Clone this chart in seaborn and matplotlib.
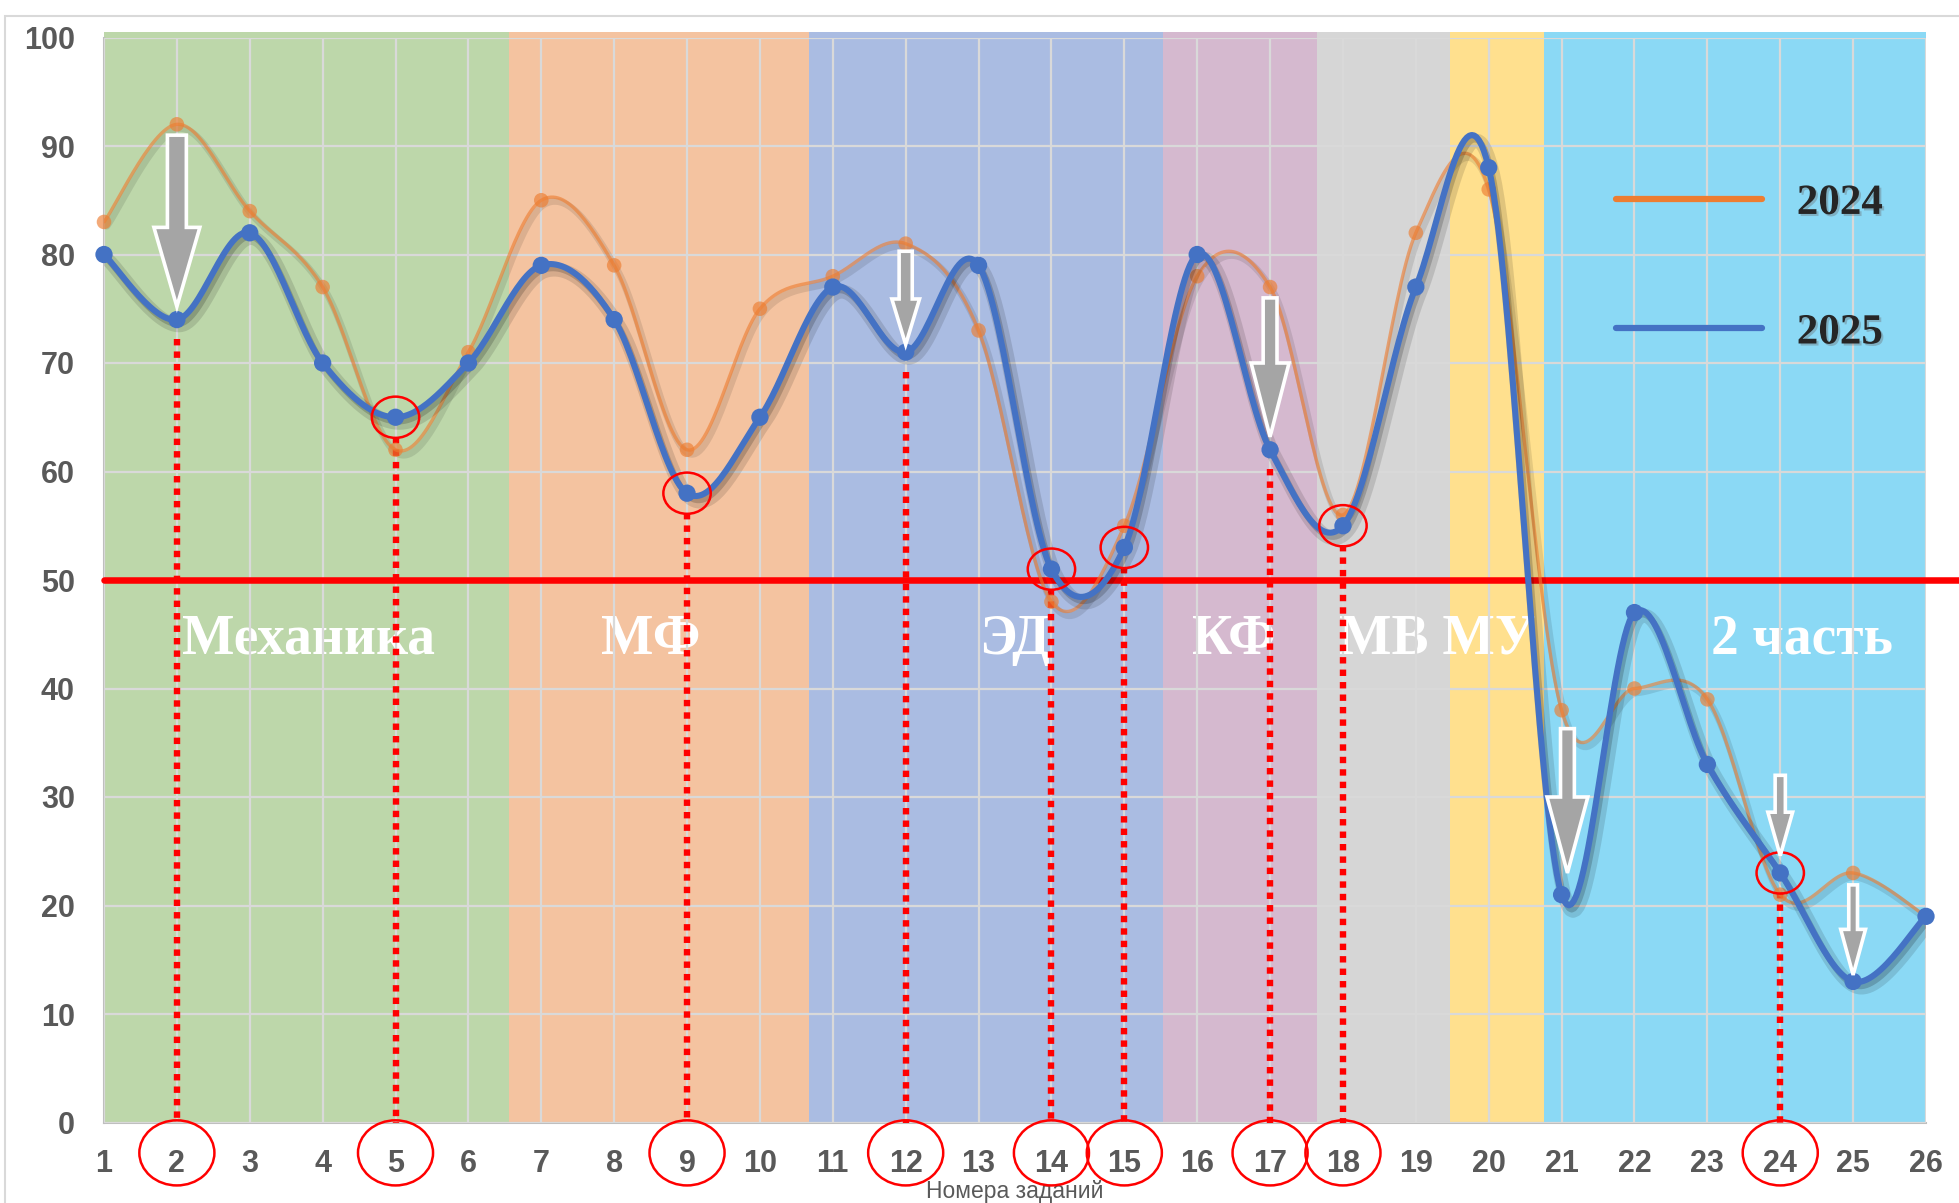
import numpy as np
import pandas as pd
import matplotlib
matplotlib.use("Agg")
import matplotlib.pyplot as plt
import matplotlib.patheffects as pe
from matplotlib.patches import Ellipse, FancyArrow, Rectangle
import seaborn as sns

# ---------------- data ----------------
tasks = list(range(1, 27))
y2024 = [83, 92, 84, 77, 62, 71, 85, 79, 62, 75, 78, 81, 73, 48, 55, 78, 77, 56, 82, 86, 38, 40, 39, 21, 23, 19]
y2025 = [80, 74, 82, 70, 65, 70, 79, 74, 58, 65, 77, 71, 79, 51, 53, 80, 62, 55, 77, 88, 21, 47, 33, 23, 13, 19]
series_names = ["2024", "2025"]
threshold = 50
marked_tasks = [2, 5, 9, 12, 14, 15, 17, 18, 24]
circled_points = [5, 9, 14, 15, 18, 24]
sections = ["Механика", "МФ", "ЭД", "КФ", "МВ МУ", "2 часть"]
section_bounds = [1, 6.56, 10.67, 15.53, 17.64, 19.47, 20.76, 26]
section_colors = ["#BDD7AA", "#F4C3A0", "#AABCE2", "#D5B9CF", "#D6D6D6", "#FFE08E", "#8BD9F5"]
section_label_x = [3.8, 8.5, 13.5, 16.5, 19.3, 24.3]
# arrows: (x, top, tip, shaft width, head width, head length)
arrows = [(2, 91, 75.2, 0.26, 0.63, 7.3),
          (12, 80.3, 71.7, 0.18, 0.38, 4.2),
          (17, 76, 63.2, 0.19, 0.52, 6.8),
          (21.08, 36.3, 23, 0.19, 0.56, 7.0),
          (24, 32, 24.6, 0.14, 0.34, 4.0),
          (25, 21.9, 13.6, 0.12, 0.34, 4.2)]

ORANGE = "#ED7D31"
BLUE = "#4472C4"


def smooth(xs, ys, n=30):
    """Excel-like smoothed line (Catmull-Rom Bezier)."""
    P = np.column_stack([xs, ys]).astype(float)
    out = []
    m = len(P)
    for i in range(m - 1):
        p0 = P[i - 1] if i > 0 else P[i]
        p1 = P[i]
        p2 = P[i + 1]
        p3 = P[i + 2] if i + 2 < m else P[i + 1]
        c1 = p1 + (p2 - p0) / 6.0
        c2 = p2 - (p3 - p1) / 6.0
        t = np.linspace(0, 1, n, endpoint=(i == m - 2))[:, None]
        b = ((1 - t) ** 3) * p1 + 3 * ((1 - t) ** 2) * t * c1 + 3 * (1 - t) * t ** 2 * c2 + t ** 3 * p2
        out.append(b)
    B = np.vstack(out)
    return B[:, 0], B[:, 1]


sns.set_theme(style="white")
plt.rcParams["font.family"] = ["Liberation Sans", "DejaVu Sans"]

fig = plt.figure(figsize=(19.59, 12.03), dpi=100)
ax = fig.add_axes([104 / 1959, 1 - 1122.5 / 1203, 1822 / 1959, 1085 / 1203])

# background bands
for i in range(len(section_colors)):
    ax.axvspan(section_bounds[i], section_bounds[i + 1], ymin=0, ymax=1.005,
               color=section_colors[i], lw=0, zorder=0.2, clip_on=False)

ax.set_xlim(1, 26)
ax.set_ylim(0, 100)
ax.set_xticks(tasks)
ax.set_yticks(range(0, 101, 10))
ax.set_axisbelow(False)
ax.grid(True, color="#D9D9D9", lw=1.6, zorder=0.5)

# section labels
for name, xl in zip(sections, section_label_x):
    ax.text(xl, 43.2, name, ha="center", va="baseline", color="white",
            fontsize=40, fontweight="bold", family="Liberation Serif", zorder=2)

# threshold line
ax.axhline(threshold, xmin=0, xmax=(1959 - 104) / 1822, color="#FF0000", lw=4.7,
           zorder=3, clip_on=False)

# red dotted verticals
for t in marked_tasks:
    v = y2025[t - 1]
    ax.plot([t, t], [v - 1.8, 0], color="#FF0000", lw=4.6, ls=(0, (1, 0.95)),
            solid_capstyle="butt", zorder=3)

shadow_blue = [pe.SimpleLineShadow(offset=(3, -4), shadow_color="black", alpha=0.12, linewidth=10),
               pe.SimpleLineShadow(offset=(2, -3), shadow_color="black", alpha=0.18),
               pe.Normal()]
shadow_orange = [pe.SimpleLineShadow(offset=(2, -3), shadow_color="black", alpha=0.10, linewidth=5),
                 pe.Normal()]

# lines
df = pd.DataFrame({"task": tasks, "2024": y2024, "2025": y2025})
sx, sy = smooth(df["task"], df["2024"])
sns.lineplot(x=sx, y=sy, sort=False, estimator=None, color=ORANGE, lw=2.4, alpha=0.62,
             ax=ax, zorder=4, path_effects=shadow_orange, label="2024")
sns.scatterplot(x=df["task"], y=df["2024"], color=ORANGE, alpha=0.65, s=110, ax=ax,
                zorder=4, edgecolor="none", legend=False, clip_on=False)

sx, sy = smooth(df["task"], df["2025"])
sns.lineplot(x=sx, y=sy, sort=False, estimator=None, color=BLUE, lw=4.4,
             ax=ax, zorder=5, path_effects=shadow_blue, label="2025")
sns.scatterplot(x=df["task"], y=df["2025"], color=BLUE, s=155, ax=ax,
                zorder=5, edgecolor="none", legend=False, clip_on=False)

# circles around points
for t in circled_points:
    ax.add_patch(Ellipse((t, y2025[t - 1]), 0.65, 3.8, fill=False, ec="#FF0000",
                         lw=1.8, zorder=6))
# circles around tick labels
for t in marked_tasks:
    ax.add_patch(Ellipse((t, -2.8), 1.03, 6.0, fill=False, ec="#FF0000",
                         lw=1.8, zorder=6, clip_on=False))

# arrows
for (xa, top, tip, w, hw, hl) in arrows:
    ax.add_patch(FancyArrow(xa, top, 0, tip - top, width=w, head_width=hw, head_length=hl,
                            length_includes_head=True, fc="#A5A5A5", ec="white", lw=2.6,
                            zorder=7))

# axes styling
for s in ["top", "right"]:
    ax.spines[s].set_visible(False)
for s in ["left", "bottom"]:
    ax.spines[s].set_color("#BFBFBF")
    ax.spines[s].set_linewidth(1.5)
    ax.spines[s].set_zorder(1)
ax.tick_params(axis="both", length=0, labelsize=22, labelcolor="#595959")
ax.tick_params(axis="y", pad=21)
ax.tick_params(axis="x", pad=19)
for lab in ax.get_xticklabels() + ax.get_yticklabels():
    lab.set_fontweight("bold")
ax.set_xlabel("Номера заданий", fontsize=16.5, color="#595959", labelpad=1)
ax.set_ylabel("")

leg = ax.legend(loc="upper left", bbox_to_anchor=(0.818, 0.885), frameon=False,
                prop={"family": "Liberation Serif", "weight": "bold", "size": 31},
                handlelength=3.4, handletextpad=0.8, labelspacing=2.1, borderpad=0)
for line in leg.get_lines():
    line.set_linewidth(4.5)
    line.set_alpha(1)
    line.set_path_effects([pe.Normal()])
for txt in leg.get_texts():
    txt.set_path_effects([pe.withSimplePatchShadow(offset=(1.5, -1.5), shadow_rgbFace="#666666", alpha=0.35)])

# outer chart border
fig.add_artist(Rectangle((5 / 1959, -0.1), 1.2, 1 - 16 / 1203 + 0.1, transform=fig.transFigure,
                         fill=False, ec="#D9D9D9", lw=1.5, zorder=-1))

fig.savefig("out.png", dpi=100)
